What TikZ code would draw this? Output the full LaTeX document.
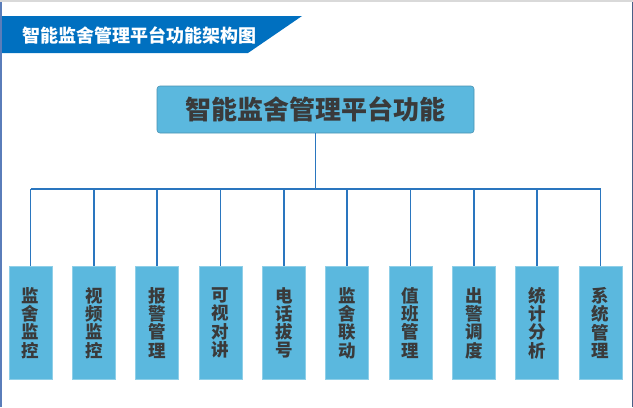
\documentclass[tikz,border=0pt]{standalone}
\usepackage{fontspec}
\newfontfamily\cjk{Noto Sans CJK SC}
\definecolor{banner}{HTML}{0070C0}
\definecolor{boxfill}{HTML}{5BB8DE}
\definecolor{boxedge}{HTML}{8FCFE8}
\definecolor{linec}{HTML}{2A76BF}
\definecolor{txt}{HTML}{3A3A3A}
\definecolor{frameL}{HTML}{5A7DBA}
\definecolor{frameR}{HTML}{4A5F86}
\begin{document}
\begin{tikzpicture}[x=1bp,y=-1bp,
  conn/.style={draw=linec,line width=1.6bp},
  leaf/.style={fill=boxfill,draw=boxedge,line width=0.8bp,minimum width=43bp,minimum height=113bp,inner sep=0pt,anchor=north,
    font=\cjk\bfseries\fontsize{17.5bp}{18.3bp}\selectfont,text=txt,align=center},
  rootbox/.style={fill=boxfill,draw=boxfill!80!black,line width=0.6bp,rounded corners=3bp,minimum width=317bp,minimum height=47bp,inner sep=0pt,
    font=\cjk\bfseries\fontsize{26bp}{28bp}\selectfont,text=txt}]
\useasboundingbox (0,0) rectangle (633,407);
\fill[white] (0,0) rectangle (633,407);
% frame
\draw[frameL,line width=1.5bp] (0.75,0) -- (0.75,407);
\draw[frameR,line width=1.5bp] (632.25,0) -- (632.25,407);
\draw[gray!30,line width=1.5bp] (0,0.75) -- (633,0.75);
% banner
\fill[banner] (2,16) -- (302,16) -- (248,53) -- (2,53) -- cycle;
\node[font=\cjk\bfseries\fontsize{18bp}{20bp}\selectfont,text=white,anchor=west,inner sep=0pt] (title) at (22,35) {智能监舍管理平台功能架构图};
% root
\node[rootbox] (root) at (315.5,109.5) {智能监舍管理平台功能};
\coordinate (hub) at (315.5,189);
\coordinate (hl) at (30.5,189);
\coordinate (hr) at (600.5,189);
\draw[conn] (root.south) -- (hub);
\draw[conn] (hl) -- (hr);
\foreach \i/\t in {0/{监\\舍\\监\\控},1/{视\\频\\监\\控},2/{报\\警\\管\\理},3/{可\\视\\对\\讲},4/{电\\话\\拔\\号},5/{监\\舍\\联\\动},6/{值\\班\\管\\理},7/{出\\警\\调\\度},8/{统\\计\\分\\析},9/{系\\统\\管\\理}}{
  \node[leaf] (c\i) at ({30.5+63.333*\i},266) {\t};
  \coordinate (t\i) at ({30.5+63.333*\i},189);
  \draw[conn] (t\i) -- (c\i.north);
}
\end{tikzpicture}
\end{document}
